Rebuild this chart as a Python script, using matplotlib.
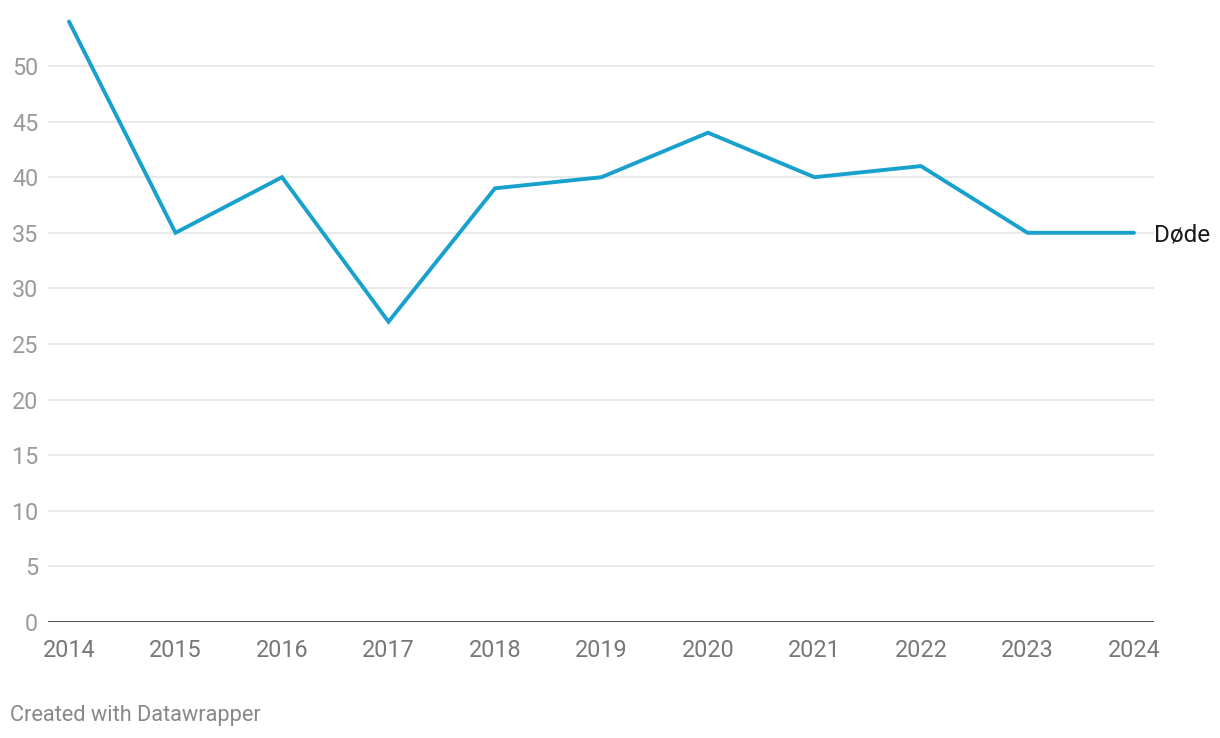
import matplotlib
matplotlib.use("Agg")
from matplotlib import pyplot as plt

years = [2014, 2015, 2016, 2017, 2018, 2019, 2020, 2021, 2022, 2023, 2024]
dode = [54, 35, 40, 27, 39, 40, 44, 40, 41, 35, 35]
yticks = [0, 5, 10, 15, 20, 25, 30, 35, 40, 45, 50]

plt.rcParams['font.family'] = ['Roboto', 'DejaVu Sans']

fig = plt.figure(figsize=(12.2, 7.38), dpi=100)
ax = fig.add_axes([48/1220, 116/738, 1106/1220, 611.6/738])

for v in yticks[1:]:
    ax.axhline(v, color="#e3e3e3", lw=1.1, zorder=1)
ax.axhline(0, color="#1a1a1a", lw=1.8, zorder=3)

ax.plot(years, dode, color="#18a1cd", lw=2.8, solid_capstyle="round",
        solid_joinstyle="miter", zorder=4)

ax.set_xlim(2014 - 21/106.5, 2024 + 20/106.5)
ax.set_ylim(0, 55)

ax.set_yticks(yticks)
ax.set_xticks(years)
ax.tick_params(axis="y", length=0, pad=7, labelsize=16.8, labelcolor="#9a9a9a")
ax.tick_params(axis="x", length=0, pad=12, labelsize=16.8, labelcolor="#777777")
for s in ax.spines.values():
    s.set_visible(False)

ax.annotate("Døde", xy=(1, 35), xycoords=("axes fraction", "data"),
            xytext=(0, -1.5), textcoords="offset points",
            ha="left", va="center", fontsize=17.5, color="#1a1a1a")

fig.text(10/1220, 1 - 715/738, "Created with Datawrapper", fontsize=15.7,
         color="#888888", ha="left", va="center")

fig.savefig("out.png", dpi=100)
